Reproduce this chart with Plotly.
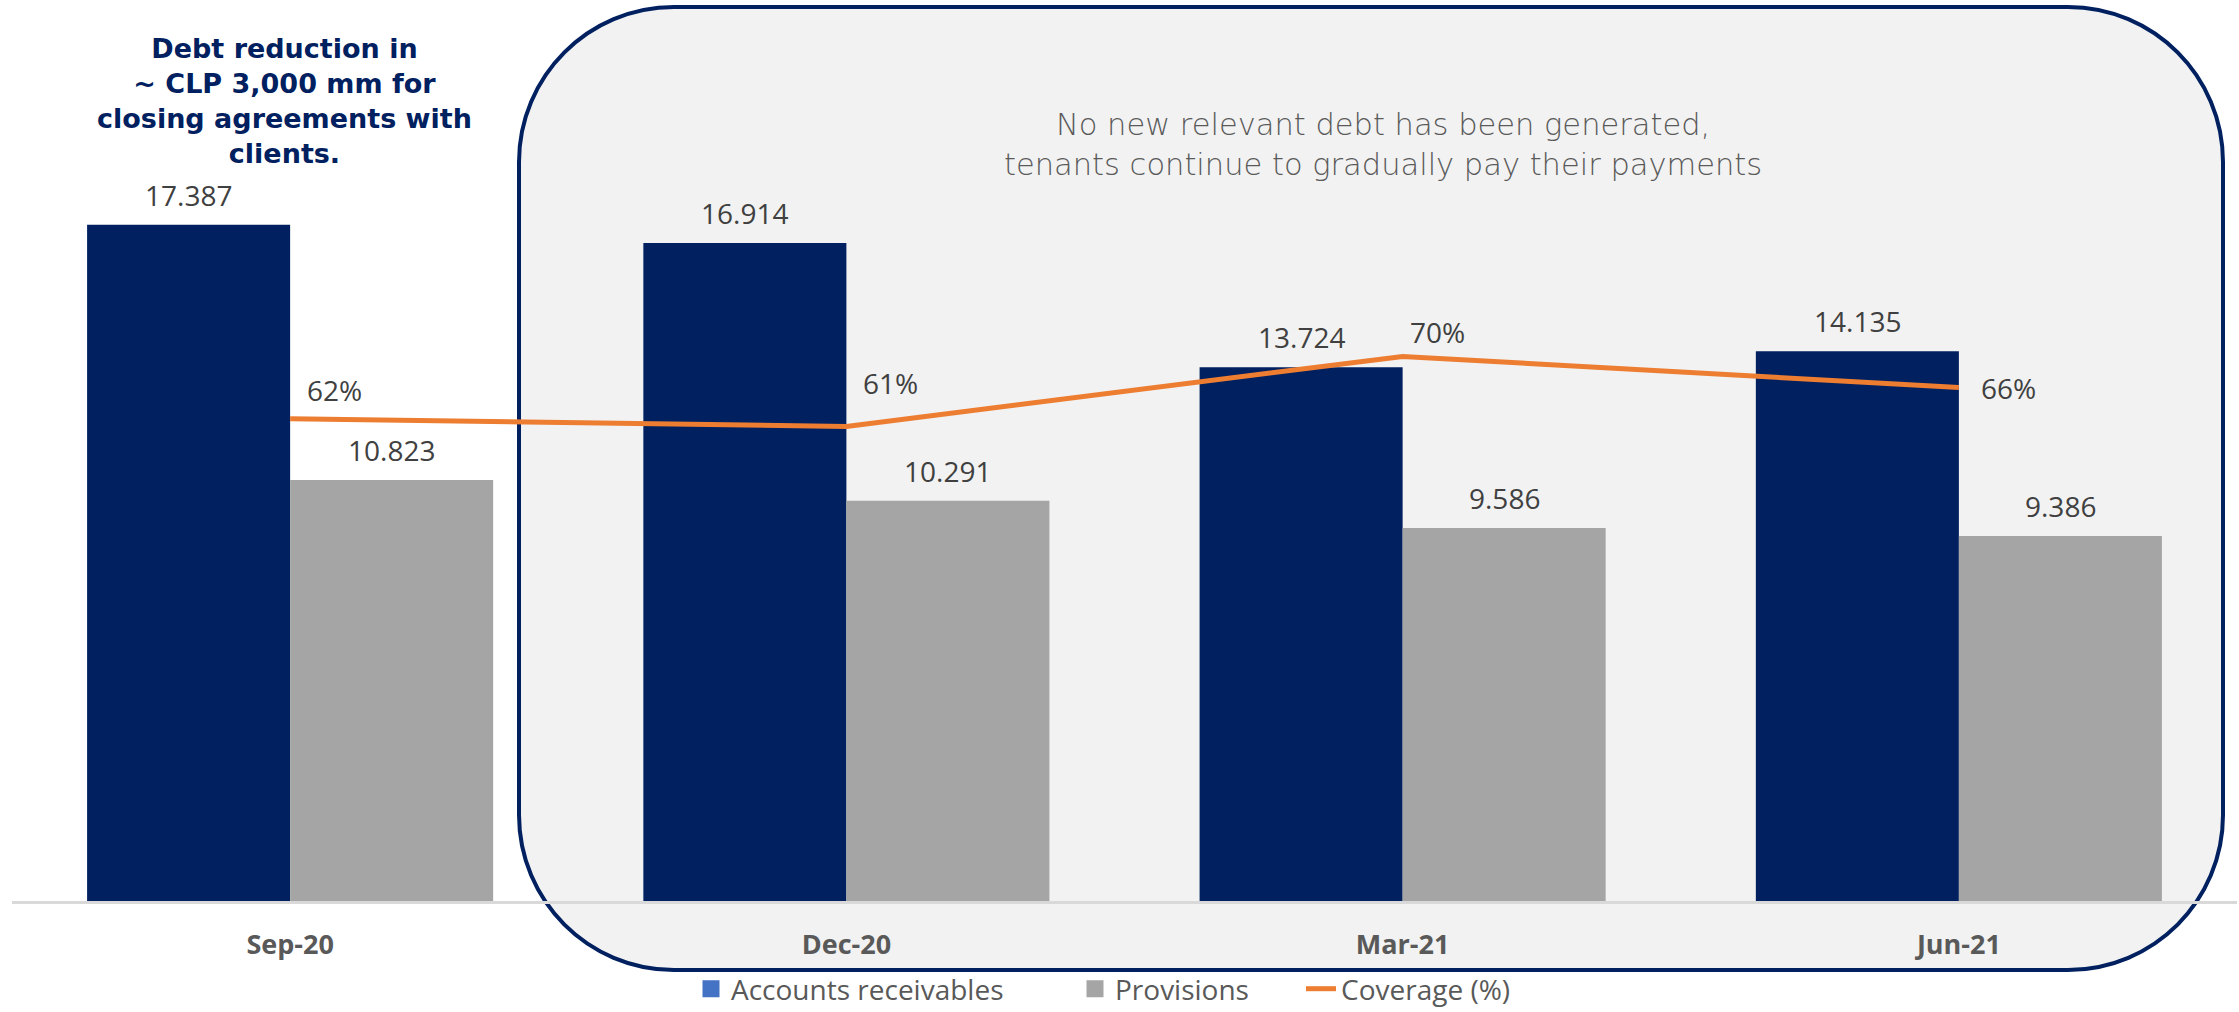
import plotly.graph_objects as go

# ---- data -------------------------------------------------------------
periods = ["Sep-20", "Dec-20", "Mar-21", "Jun-21"]
accounts_receivable = [17387, 16914, 13724, 14135]   # CLP mm
provisions = [10823, 10291, 9586, 9386]              # CLP mm
coverage = [0.62, 0.61, 0.70, 0.66]                  # provisions / receivables

legend_names = ["Accounts receivables", "Provisions", "Coverage (%)"]
note_left = "Debt reduction in<br>~ CLP 3,000 mm for<br>closing agreements with<br>clients."
note_box = ("No new relevant debt has been generated,<br>"
            "tenants continue to gradually pay their payments")

# ---- layout constants (pixels) ----------------------------------------
W, H = 2239, 1012
M_L, M_R, M_T, M_B = 12, 2, 123, 111
PW = W - M_L - M_R
PH = H - M_T - M_B
BARGAP = 0.27
BAR_W = PW / len(periods) * (1 - BARGAP) / 2

NAVY = "#002060"
GREY = "#A5A5A5"
ORANGE = "#ED7D31"
LEGEND_BLUE = "#4472C4"
LABEL = "#404040"
MUTED = "#595959"
BOX_FILL = "#F2F2F2"

LABEL_FONT = dict(family="Open Sans", size=28, color=LABEL)

# offsets (px) of the coverage labels from their points
coverage_label_shift = [(44, 29), (44, 43), (35, 24), (50, 0)]
# fixed legend entry widths (px) for the two bar entries
legend_entry_width = [339, 181]


def px_x(px):
    return (px - M_L) / PW


def px_y(py):
    return (H - M_B - py) / PH


def fmt_thousands(v):
    return f"{v:,}".replace(",", ".")


fig = go.Figure()

# legend keys for the two bar series (drawn without data)
fig.add_trace(go.Bar(
    name=legend_names[0], x=[periods[0]], y=[None],
    marker=dict(color=LEGEND_BLUE, line=dict(color=LEGEND_BLUE, width=5)),
    offsetgroup="ar", hoverinfo="skip", legendwidth=legend_entry_width[0],
))
fig.add_trace(go.Bar(
    name=legend_names[1], x=[periods[0]], y=[None],
    marker=dict(color=GREY, line=dict(color=GREY, width=5)),
    offsetgroup="prov", hoverinfo="skip", legendwidth=legend_entry_width[1],
))

# bars
fig.add_trace(go.Bar(
    name=legend_names[0], x=periods, y=accounts_receivable,
    marker=dict(color=NAVY, line_width=0), offsetgroup="ar",
    showlegend=False,
))
fig.add_trace(go.Bar(
    name=legend_names[1], x=periods, y=provisions,
    marker=dict(color=GREY, line_width=0), offsetgroup="prov",
    showlegend=False,
))
# coverage ratio on the secondary axis
fig.add_trace(go.Scatter(
    name=legend_names[2], x=periods, y=coverage, yaxis="y2",
    mode="lines", line=dict(color=ORANGE, width=5),
))

annotations = []
for p, v in zip(periods, accounts_receivable):
    annotations.append(dict(
        x=p, y=v, xref="x", yref="y", text=fmt_thousands(v),
        xshift=-BAR_W / 2, yshift=30, showarrow=False,
        yanchor="middle", font=LABEL_FONT,
    ))
for p, v in zip(periods, provisions):
    annotations.append(dict(
        x=p, y=v, xref="x", yref="y", text=fmt_thousands(v),
        xshift=BAR_W / 2, yshift=30, showarrow=False,
        yanchor="middle", font=LABEL_FONT,
    ))
for p, c, (dx, dy) in zip(periods, coverage, coverage_label_shift):
    annotations.append(dict(
        x=p, y=c, xref="x", yref="y2", text=f"{round(c * 100)}%",
        xshift=dx, yshift=dy, showarrow=False,
        yanchor="middle", font=LABEL_FONT,
    ))

annotations.append(dict(
    x=px_x(284), y=px_y(101), xref="paper", yref="paper",
    text=note_left, showarrow=False, align="center",
    xanchor="center", yanchor="middle",
    font=dict(family="DejaVu Sans", size=27, color=NAVY, weight="bold"),
))
annotations.append(dict(
    x=px_x(1383), y=px_y(144), xref="paper", yref="paper",
    text=note_box, showarrow=False, align="center",
    xanchor="center", yanchor="middle",
    font=dict(family="DejaVu Sans", size=30.5, color="#5a5a5a", weight=300),
))

# rounded highlight box behind the last three quarters
bx0, bx1, by0, by1, r = 519, 2223, 7, 970, 155
k = 0.5523 * r
pts = [
    ("M", [(bx0 + r, by0)]),
    ("L", [(bx1 - r, by0)]),
    ("C", [(bx1 - r + k, by0), (bx1, by0 + r - k), (bx1, by0 + r)]),
    ("L", [(bx1, by1 - r)]),
    ("C", [(bx1, by1 - r + k), (bx1 - r + k, by1), (bx1 - r, by1)]),
    ("L", [(bx0 + r, by1)]),
    ("C", [(bx0 + r - k, by1), (bx0, by1 - r + k), (bx0, by1 - r)]),
    ("L", [(bx0, by0 + r)]),
    ("C", [(bx0, by0 + r - k), (bx0 + r - k, by0), (bx0 + r, by0)]),
]
path = " ".join(
    cmd + " " + " ".join(f"{px_x(x):.5f},{px_y(y):.5f}" for x, y in coords)
    for cmd, coords in pts
) + " Z"

fig.update_layout(
    width=W, height=H, autosize=False,
    margin=dict(l=M_L, r=M_R, t=M_T, b=M_B, pad=0, autoexpand=False),
    paper_bgcolor="white", plot_bgcolor="rgba(0,0,0,0)",
    barmode="group", bargap=BARGAP, bargroupgap=0,
    showlegend=True,
    legend=dict(
        orientation="h", x=px_x(691), xanchor="left",
        y=px_y(989), yanchor="middle", traceorder="normal",
        font=dict(family="Open Sans", size=28, color=MUTED),
        bgcolor="rgba(0,0,0,0)",
    ),
    xaxis=dict(
        type="category", categoryorder="array", categoryarray=periods,
        range=[-0.5, len(periods) - 0.5],
        showline=True, linecolor="#D9D9D9", linewidth=3,
        ticks="", showgrid=False, zeroline=False,
        tickfont=dict(family="Open Sans", size=27, color=MUTED, weight="bold"),
        ticklabelstandoff=18,
    ),
    yaxis=dict(range=[0, 20000], visible=False, showgrid=False, zeroline=False),
    yaxis2=dict(range=[0, 1], overlaying="y", visible=False,
                showgrid=False, zeroline=False),
    annotations=annotations,
    shapes=[dict(
        type="path", path=path, xref="paper", yref="paper",
        fillcolor=BOX_FILL, line=dict(color=NAVY, width=4), layer="below",
    )],
)

fig.write_html("out.html")
